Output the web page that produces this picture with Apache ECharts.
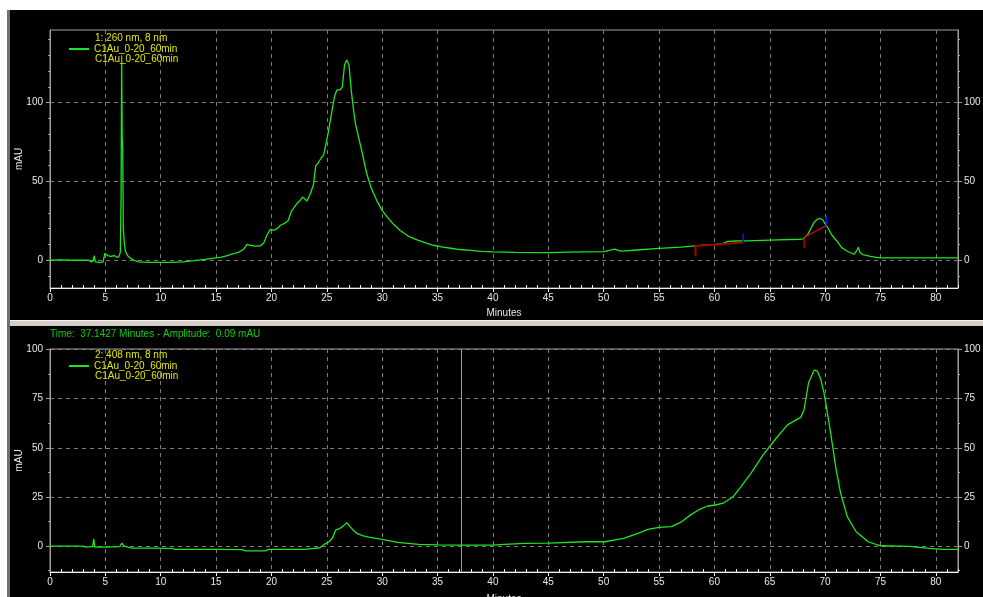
<!DOCTYPE html>
<html>
<head>
<meta charset="utf-8">
<script src="https://cdn.jsdelivr.net/npm/echarts@6/dist/echarts.min.js"></script>
<style>html,body{margin:0;padding:0;background:#fff;}#c{width:983px;height:597px;}</style>
</head>
<body>
<div id="c"></div>
<script>
// ---- data ----
const xMajorTicks = [0,5,10,15,20,25,30,35,40,45,50,55,60,65,70,75,80];
const yTopTicks = [0,50,100];
const yBottomTicks = [0,25,50,75,100];
const seriesName = 'C1Au_0-20_60min';
const topTitle = '1: 260 nm, 8 nm';
const bottomTitle = '2: 408 nm, 8 nm';
const cursorText = 'Time:  37.1427 Minutes - Amplitude:  0.09 mAU';
const cursorTime = 37.1427;

// 260 nm trace (minutes, mAU)
const trace260 = [
[0,0],[1,0.2],[2,0],[3,0],[3.5,0],[3.7,-1],[3.9,-0.5],[4.0,3],[4.1,-1],[4.5,-1.5],[4.8,-1],[4.95,4.4],[5.2,3],[5.5,2.5],[5.8,3],[6.0,2],[6.2,2],
[6.35,5],[6.42,40],[6.47,130],[6.52,78],[6.57,70],[6.62,20],[6.7,12],[6.8,6],[7.0,3],[7.3,1],[7.6,0],[8,-1],[9,-1.3],[10,-1.3],[11,-1.3],[12,-1],
[13,-0.3],[14,0.5],[15,1.5],[15.5,2],[16,3],[16.5,4],[17,5],[17.5,7],[17.8,10],[18.1,9.5],[18.5,9],[19,9.2],[19.3,11],[19.6,16],[19.9,19.6],[20.2,19],
[20.5,20],[20.8,22],[21.2,23.5],[21.5,25],[21.8,31],[22.0,33],[22.3,36],[22.6,38],[22.8,40],[23.0,39],[23.2,37.5],[23.5,42],[23.8,48],[24.0,60],
[24.2,61.5],[24.5,65],[24.7,66.5],[24.9,73],[25.1,80],[25.4,92],[25.7,104],[25.9,108],[26.2,108],[26.4,110],[26.6,124],[26.8,127],[27.0,124],
[27.2,108],[27.4,96],[27.6,86],[27.9,77],[28.2,68],[28.6,55],[29.0,46],[29.5,38],[30.0,31.5],[30.5,27],[31.0,23],[31.6,19],[32.3,15.5],[33.2,12.7],
[34.0,10.8],[34.6,9.5],[35.5,8.3],[36.2,7.6],[37,6.8],[38,6.2],[39,5.6],[40,5.3],[42,5],[45,4.8],[48,5.3],[50,5.5],[51,7],[51.3,6.2],[51.7,5.8],
[53,6.5],[55,7.5],[57,8.3],[58,8.9],[59,9.6],[60,10],[60.8,10.5],[61.2,12],[62,12.2],[63,12.3],[65,12.7],[67.7,13.3],[68.0,13.5],[68.4,16],
[68.7,20],[69.0,24],[69.3,26],[69.5,26.6],[69.8,25.5],[70.0,23],[70.3,20],[70.6,16],[71.0,12.7],[71.5,8],[72.0,5.7],[72.6,3.8],[72.85,6],[73.0,8.2],
[73.15,5],[73.4,3.5],[74.1,2.5],[74.5,2],[75,1.5],[78,1.5],[82,1.5]
];

// 408 nm trace (minutes, mAU)
const trace408 = [
[0,0],[3,0],[3.2,-0.5],[3.85,-0.3],[3.95,3.6],[4.05,-0.5],[5,-0.5],[6.3,-0.3],[6.5,1.5],[6.7,0],[7.4,-1],[9,-1],[11,-1.2],[11.3,-1.7],[15,-1.7],
[17.4,-1.8],[17.6,-2.4],[19.5,-2.4],[19.7,-1.7],[23,-1.7],[24.4,-0.85],[24.8,1],[25.2,2.2],[25.5,4],[25.8,8.2],[26.1,8.7],[26.4,9.9],[26.8,11.9],
[27.1,9.9],[27.4,8],[27.7,6.5],[28.3,5.2],[28.9,4.4],[30,3.4],[31.4,1.9],[33.3,0.85],[35,0.6],[37,0.5],[40,0.5],[41,0.9],[42.9,1.4],[45,1.5],
[48.4,2.2],[50.1,2.2],[51.3,3.4],[51.8,3.9],[53.1,6.5],[54,8.5],[55,9.5],[56.1,9.9],[57,12.2],[57.9,16],[58.6,18.5],[59.4,20.4],[60.1,20.9],
[60.8,21.8],[61.7,25.2],[62.4,30.3],[63.3,37],[64.4,46.4],[65.6,55],[66.6,61.7],[67.3,64],[67.8,65.5],[68.1,69.4],[68.5,83],[69.0,89.5],[69.3,89],
[69.6,85],[69.9,78],[70.2,68],[70.5,57.5],[71.0,38.8],[71.4,26.9],[72.0,15],[72.8,7.3],[73.9,2.2],[75,0.15],[77.6,-0.2],[79.4,-1.2],[80.7,-1.7],[82,-1.7]
];

// integration markers on the 260 nm trace
const redTick1 = [[58.3,9.5],[58.3,2.5]];
const redBase1 = [[58.3,9.0],[60,9.8],[62.6,11.2]];
const blueTick1 = [[62.6,11.2],[62.6,17]];
const redTick2 = [[68.1,14.5],[68.1,8]];
const redBase2 = [[68.1,14.5],[70.1,22]];
const blueTick2 = [[70.1,22],[70.1,28]];

// ---- chart ----
const FONT = 'Liberation Sans';
const axisGray = '#a0a0a0';
const txtWhite = '#e8e8e8';
const gridDash = '#7c7c7c';
const traceColor = '#1ee61e';
const yellow = '#e6e600';

function range(a,b,s){const r=[];for(let v=a;v<=b+1e-9;v+=s)r.push(+v.toFixed(3));return r;}
const xMinor = range(0,82,1).filter(v => v % 5 !== 0);
const yTopMinor = range(-10,140,10).filter(v => v % 50 !== 0);
const yBotMinor = range(-12.5,100,12.5).filter(v => v % 25 !== 0);

const panels = [
  {top:30, height:258, min:-17.6, max:146, major:yTopTicks, minor:yTopMinor, nameGap:20},
  {top:349, height:223, min:-13.2, max:100.3, major:yBottomTicks, minor:yBotMinor, nameGap:22}
];

const grid = panels.map(p => ({left:50, right:25, top:p.top, height:p.height, show:true,
  outerBoundsMode:'none', containLabel:false,
  borderColor:axisGray, borderWidth:1, backgroundColor:'#000'}));

const xAxis = [];
const yAxis = [];
panels.forEach((p,i) => {
  xAxis.push({gridIndex:i, type:'value', min:0, max:82, interval:5,
    name:'Minutes', nameLocation:'middle', nameGap:p.nameGap, nameMoveOverlap:false,
    nameTextStyle:{color:txtWhite, fontSize:10, fontFamily:FONT},
    axisLine:{show:true, onZero:false, lineStyle:{color:'#f0f0f0'}},
    axisTick:{show:true, customValues:xMajorTicks, length:4, lineStyle:{color:'#f0f0f0'}},
    axisLabel:{customValues:xMajorTicks, color:txtWhite, fontSize:10, fontFamily:FONT, margin:5},
    splitLine:{show:true, lineStyle:{color:gridDash, type:[4,4], width:1}}});
  xAxis.push({gridIndex:i, type:'value', min:0, max:82, position:'bottom',
    axisLine:{show:false, onZero:false}, axisLabel:{show:false}, splitLine:{show:false},
    axisTick:{show:true, customValues:xMinor, inside:true, length:3, lineStyle:{color:'#f0f0f0'}}});
  ['left','right'].forEach(side => {
    yAxis.push({gridIndex:i, type:'value', min:p.min, max:p.max, position:side,
      name: side==='left' ? 'mAU' : '', nameLocation:'middle', nameGap:26, nameRotate:90, nameMoveOverlap:false,
      nameTextStyle:{color:txtWhite, fontSize:10, fontFamily:FONT},
      axisLine:{show:true, onZero:false, lineStyle:{color:axisGray}},
      axisTick:{show:true, customValues:p.major, length:4, lineStyle:{color:axisGray}},
      axisLabel:{customValues:p.major, color:txtWhite, fontSize:10, fontFamily:FONT, margin:side==='left'?7:6},
      splitLine:{show: side==='left', lineStyle:{color:gridDash, type:[4,4], width:1}}});
    yAxis.push({gridIndex:i, type:'value', min:p.min, max:p.max, position:side,
      axisLine:{show:false, onZero:false}, axisLabel:{show:false}, splitLine:{show:false},
      axisTick:{show:true, customValues:p.minor, length:2, lineStyle:{color:axisGray}}});
  });
});

function lineSeries(name, data, gi, color, width, extra){
  return Object.assign({name:name, type:'line', data:data, xAxisIndex:gi*2, yAxisIndex:gi*4,
    showSymbol:false, symbol:'none', silent:true, animation:false,
    lineStyle:{color:color, width:width}, itemStyle:{color:color}, z:3}, extra||{});
}

const series = [
  lineSeries(seriesName, trace260, 0, traceColor, 1.3),
  lineSeries('redTick1', redTick1, 0, '#b00000', 2, {z:4}),
  lineSeries('redBase1', redBase1, 0, '#a00000', 2, {z:4}),
  lineSeries('blueTick1', blueTick1, 0, '#1010ff', 1.5, {z:4}),
  lineSeries('redTick2', redTick2, 0, '#e00000', 1.2, {z:4}),
  lineSeries('redBase2', redBase2, 0, '#e00000', 1.2, {z:4}),
  lineSeries('blueTick2', blueTick2, 0, '#1010ff', 1.5, {z:4}),
  lineSeries(seriesName, trace408, 1, traceColor, 1.3, {
    markLine:{silent:true, symbol:'none', animation:false, label:{show:false},
      lineStyle:{color:'#9a9a9a', type:'solid', width:1},
      data:[{xAxis:cursorTime}]}})
];

const titleStyle = {color:yellow, fontSize:10, fontWeight:'normal', fontFamily:FONT};
const option = {
  backgroundColor:'#ffffff',
  animation:false,
  graphic:[
    {type:'rect', z:-10, shape:{x:10,y:10,width:973,height:310}, style:{fill:'#000'}},
    {type:'rect', z:-10, shape:{x:9,y:320,width:974,height:6}, style:{fill:'#d4d0c8'}},
    {type:'rect', z:-10, shape:{x:9,y:320,width:974,height:1}, style:{fill:'#f4f4f4'}},
    {type:'rect', z:-10, shape:{x:10,y:326,width:973,height:271}, style:{fill:'#000'}},
    {type:'rect', z:-10, shape:{x:7,y:10,width:3,height:587}, style:{fill:'#707070'}}
  ],
  title:[
    {text:topTitle, left:95, top:33, padding:0, textStyle:titleStyle},
    {text:seriesName, left:95, top:54, padding:0, textStyle:titleStyle},
    {text:cursorText, left:50, top:329, padding:0, textStyle:{color:'#10d010', fontSize:10, fontWeight:'normal', fontFamily:FONT}},
    {text:bottomTitle, left:95, top:350, padding:0, textStyle:titleStyle},
    {text:seriesName, left:95, top:371, padding:0, textStyle:titleStyle}
  ],
  legend:[
    {left:69, top:44, padding:0, data:[seriesName], icon:'rect', itemWidth:20, itemHeight:2, selectedMode:false,
      textStyle:{color:yellow, fontSize:10, fontFamily:FONT}},
    {left:69, top:361, padding:0, data:[seriesName], icon:'rect', itemWidth:20, itemHeight:2, selectedMode:false,
      textStyle:{color:yellow, fontSize:10, fontFamily:FONT}}
  ],
  grid:grid, xAxis:xAxis, yAxis:yAxis, series:series
};
const chart = echarts.init(document.getElementById('c'), null, {renderer:'canvas'});
chart.setOption(option);
</script>
</body>
</html>
